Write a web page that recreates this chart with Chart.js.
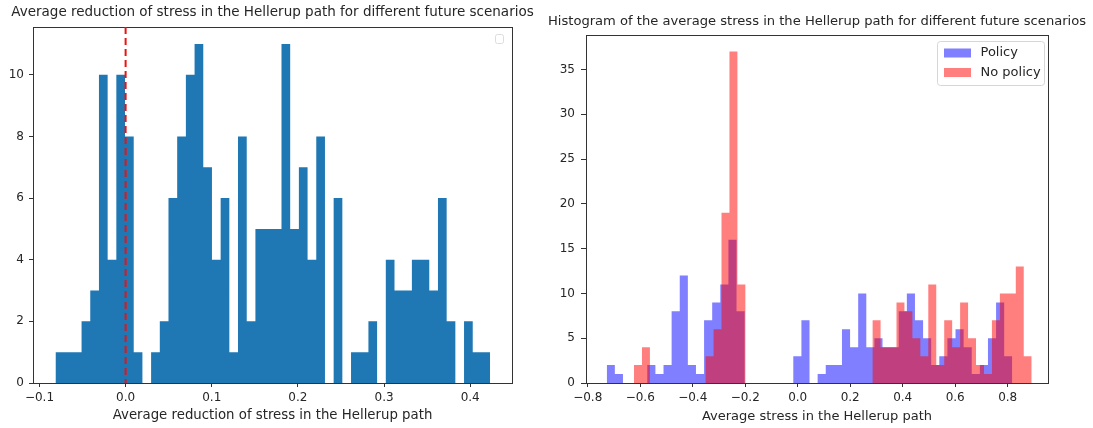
<!DOCTYPE html>
<html>
<head>
<meta charset="utf-8">
<script src="https://cdn.jsdelivr.net/npm/chart.js@4.4.1/dist/chart.umd.min.js"></script>
<style>
  html, body { margin: 0; padding: 0; background: #fff; }
  #wrap { position: relative; width: 1093px; height: 428px; overflow: hidden; }
  #reduction { position: absolute; left: 0; top: 0; }
  #stress { position: absolute; left: 536px; top: 0; }
</style>
</head>
<body>
<div id="wrap">
  <canvas id="reduction" width="545" height="428"></canvas>
  <canvas id="stress" width="557" height="428"></canvas>
</div>
<script>
// ---- Histogram 1: average reduction of stress (50 equal bins) ----
const reductionTitle = 'Average reduction of stress in the Hellerup path for different future scenarios';
const reductionXLabel = 'Average reduction of stress in the Hellerup path';
const reductionBinStart = -0.0814;
const reductionBinWidth = 0.01009;
const reductionCounts = [1, 1, 1, 2, 3, 10, 4, 10, 8, 1,
                         0, 1, 2, 6, 8, 10, 11, 7, 4, 6,
                         1, 8, 2, 5, 5, 5, 11, 5, 7, 4,
                         8, 0, 6, 0, 1, 1, 2, 0, 4, 3,
                         3, 4, 4, 3, 6, 2, 0, 2, 1, 1];
const reductionXTicks = [-0.1, 0.0, 0.1, 0.2, 0.3, 0.4];
const reductionYTicks = [0, 2, 4, 6, 8, 10];
const reductionXRange = [-0.1075, 0.4485];
const reductionYMax = 11.55;
const zeroReduction = 0;

// ---- Histogram 2: average stress with / without policy (50 bins each) ----
const stressTitle = 'Histogram of the average stress in the Hellerup path for different future scenarios';
const stressXLabel = 'Average stress in the Hellerup path';
const policyLabel = 'Policy';
const policyBinStart = -0.7275;
const policyBinWidth = 0.03090;
const policyCounts = [2, 1, 0, 0, 0, 2, 1, 2, 8, 12,
                      2, 1, 7, 9, 11, 16, 8, 0, 0, 0,
                      0, 0, 0, 3, 7, 0, 1, 2, 2, 6,
                      4, 10, 4, 5, 4, 4, 8, 10, 7, 5,
                      2, 3, 5, 6, 4, 1, 2, 5, 9, 3];
const noPolicyLabel = 'No policy';
const noPolicyBinStart = -0.6236;
const noPolicyBinWidth = 0.03030;
const noPolicyCounts = [2, 4, 0, 0, 0, 0, 0, 0, 0, 3,
                        6, 19, 37, 11, 0, 0, 0, 0, 0, 0,
                        0, 0, 0, 0, 0, 0, 0, 0, 0, 0,
                        7, 4, 4, 9, 8, 5, 3, 11, 2, 7,
                        4, 9, 5, 2, 1, 7, 10, 10, 13, 3];
const stressXTicks = [-0.8, -0.6, -0.4, -0.2, 0.0, 0.2, 0.4, 0.6, 0.8];
const stressYTicks = [0, 5, 10, 15, 20, 25, 30, 35];
const stressXRange = [-0.8065, 0.9535];
const stressYMax = 38.85;

const FONT = 'DejaVu Sans';
const TEXT = '#262626';
const TICK_SIZE = 12;
const LEGEND_SIZE = 13;
Chart.defaults.font.family = FONT;
Chart.defaults.color = TEXT;

// Histogram outline as bin-edge points; a stepped line filled to zero draws the bars.
function histogramPoints(start, width, counts) {
  const pts = counts.map((c, i) => ({ x: start + i * width, y: c }));
  pts.push({ x: start + counts.length * width, y: 0 });
  return pts;
}

const fmtSigned = v => (v < 0 ? '\u2212' : '') + Math.abs(v).toFixed(1);

function linearAxis(range, ticks, fmt, fit, title, titleSize, tickLen, tickPad) {
  const axis = {
    type: 'linear',
    min: range[0],
    max: range[1],
    border: { display: false },
    grid: { drawOnChartArea: false, drawTicks: true, tickLength: tickLen, tickColor: '#333', lineWidth: 1 },
    ticks: { font: { size: TICK_SIZE }, color: TEXT, padding: tickPad, callback: fmt, maxRotation: 0, autoSkip: false },
    afterBuildTicks: ax => { ax.ticks = ticks.map(v => ({ value: v })); },
    afterFit: fit
  };
  if (title) {
    axis.title = { display: true, text: title, font: { size: titleSize }, color: TEXT, padding: { top: 0, bottom: 4 } };
  }
  return axis;
}

// Axes frame on all four sides
const framePlugin = {
  id: 'frame',
  afterDatasetsDraw(chart) {
    const { ctx, chartArea: a } = chart;
    ctx.save();
    ctx.strokeStyle = '#333';
    ctx.lineWidth = 1;
    ctx.strokeRect(Math.round(a.left) + 0.5, Math.round(a.top) + 0.5,
                   Math.round(a.right - a.left), Math.round(a.bottom - a.top));
    ctx.restore();
  }
};

// Title centred over the plotting area
function axesTitlePlugin(text, size, gap) {
  return {
    id: 'axesTitle',
    afterDraw(chart) {
      const { ctx, chartArea: a } = chart;
      ctx.save();
      ctx.font = size + 'px "' + FONT + '"';
      ctx.fillStyle = TEXT;
      ctx.textAlign = 'center';
      ctx.textBaseline = 'middle';
      ctx.fillText(text, (a.left + a.right) / 2, a.top - gap);
      ctx.restore();
    }
  };
}

function roundRect(ctx, x, y, w, h, r) {
  ctx.beginPath();
  ctx.moveTo(x + r, y);
  ctx.lineTo(x + w - r, y);
  ctx.quadraticCurveTo(x + w, y, x + w, y + r);
  ctx.lineTo(x + w, y + h - r);
  ctx.quadraticCurveTo(x + w, y + h, x + w - r, y + h);
  ctx.lineTo(x + r, y + h);
  ctx.quadraticCurveTo(x, y + h, x, y + h - r);
  ctx.lineTo(x, y + r);
  ctx.quadraticCurveTo(x, y, x + r, y);
  ctx.closePath();
}

// Dashed vertical marker at zero reduction
const zeroLinePlugin = {
  id: 'zeroLine',
  afterDatasetsDraw(chart) {
    const { ctx, chartArea: a, scales } = chart;
    const x = scales.x.getPixelForValue(zeroReduction);
    ctx.save();
    ctx.strokeStyle = '#ee1111';
    ctx.lineWidth = 2;
    ctx.setLineDash([7, 4]);
    ctx.beginPath();
    ctx.moveTo(x, a.top);
    ctx.lineTo(x, a.bottom);
    ctx.stroke();
    ctx.restore();
  }
};

// Legend frame with no entries (upper right)
const emptyLegendPlugin = {
  id: 'emptyLegend',
  afterDraw(chart) {
    const { ctx, chartArea: a } = chart;
    ctx.save();
    ctx.fillStyle = 'rgba(255,255,255,0.8)';
    ctx.strokeStyle = '#dcdcdc';
    ctx.lineWidth = 1;
    roundRect(ctx, a.right - 16.5, a.top + 7.5, 8, 9, 2);
    ctx.fill();
    ctx.stroke();
    ctx.restore();
  }
};

// Boxed legend with colour patches (upper right)
const boxLegendPlugin = {
  id: 'boxLegend',
  afterDraw(chart) {
    const { ctx, chartArea: a } = chart;
    const ds = chart.data.datasets;
    const w = 107, h = 44;
    const x0 = a.right - w - 3.5, y0 = a.top + 6.5;
    ctx.save();
    ctx.fillStyle = 'rgba(255,255,255,0.8)';
    ctx.strokeStyle = '#d6d6d6';
    ctx.lineWidth = 1;
    roundRect(ctx, x0, y0, w, h, 3);
    ctx.fill();
    ctx.stroke();
    ctx.font = LEGEND_SIZE + 'px "' + FONT + '"';
    ctx.textBaseline = 'middle';
    ctx.textAlign = 'left';
    const order = [1, 0];
    order.forEach((di, row) => {
      const py = y0 + 7 + row * 19.5;
      ctx.fillStyle = ds[di].backgroundColor;
      ctx.fillRect(x0 + 6.5, py, 27, 9);
      ctx.fillStyle = TEXT;
      ctx.fillText(ds[di].label, x0 + 43, py + 4.5);
    });
    ctx.restore();
  }
};

new Chart(document.getElementById('reduction'), {
  type: 'line',
  data: {
    datasets: [{
      label: 'reduction',
      data: histogramPoints(reductionBinStart, reductionBinWidth, reductionCounts),
      stepped: true,
      fill: 'origin',
      backgroundColor: '#1f77b4',
      borderWidth: 0,
      pointRadius: 0
    }]
  },
  options: {
    responsive: false,
    animation: false,
    layout: { padding: { top: 27, right: 33, bottom: 0, left: 0 } },
    plugins: { legend: { display: false }, tooltip: { enabled: false }, title: { display: false } },
    scales: {
      x: linearAxis(reductionXRange, reductionXTicks, fmtSigned, s => { s.height = 45; }, reductionXLabel, 13.3, 4, 4),
      y: linearAxis([0, reductionYMax], reductionYTicks, v => String(v), s => { s.width = 33; }, null, 0, 4, 5)
    }
  },
  plugins: [framePlugin, zeroLinePlugin, emptyLegendPlugin, axesTitlePlugin(reductionTitle, 13.5, 15)]
});

new Chart(document.getElementById('stress'), {
  type: 'line',
  data: {
    datasets: [{
      label: noPolicyLabel,
      data: histogramPoints(noPolicyBinStart, noPolicyBinWidth, noPolicyCounts),
      stepped: true,
      fill: 'origin',
      backgroundColor: 'rgba(255,0,0,0.5)',
      borderWidth: 0,
      pointRadius: 0,
      order: 1
    }, {
      label: policyLabel,
      data: histogramPoints(policyBinStart, policyBinWidth, policyCounts),
      stepped: true,
      fill: 'origin',
      backgroundColor: 'rgba(0,0,255,0.5)',
      borderWidth: 0,
      pointRadius: 0,
      order: 2
    }]
  },
  options: {
    responsive: false,
    animation: false,
    layout: { padding: { top: 35, right: 45, bottom: 0, left: 0 } },
    plugins: { legend: { display: false }, tooltip: { enabled: false }, title: { display: false } },
    scales: {
      x: linearAxis(stressXRange, stressXTicks, fmtSigned, s => { s.height = 45; }, stressXLabel, 13, 4, 4),
      y: linearAxis([0, stressYMax], stressYTicks, v => String(v), s => { s.width = 50; }, null, 0, 5, 6)
    }
  },
  plugins: [framePlugin, boxLegendPlugin, axesTitlePlugin(stressTitle, 13.1, 13)]
});
</script>
</body>
</html>
